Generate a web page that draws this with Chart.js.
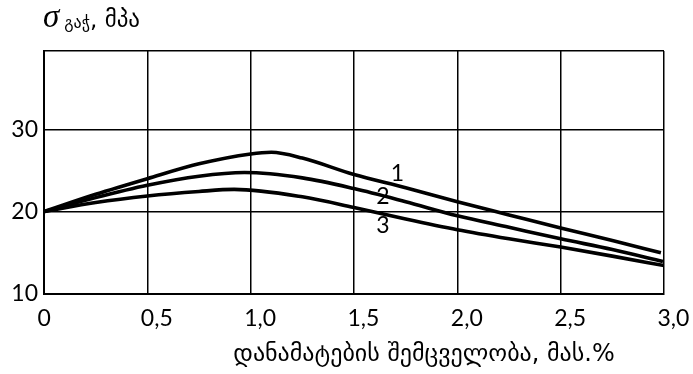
<!DOCTYPE html>
<html>
<head>
<meta charset="utf-8">
<script src="https://cdn.jsdelivr.net/npm/chart.js@4.4.1/dist/chart.umd.min.js"></script>
<style>
  html, body { margin: 0; padding: 0; background: #fff; }
  #wrap { width: 693px; height: 374px; position: relative; }
</style>
</head>
<body>
<div id="wrap"><canvas id="c" width="693" height="374"></canvas></div>
<script>
// Tensile strength of gypsum vs. additive content, three compositions
const xTickValues = [0, 0.5, 1.0, 1.5, 2.0, 2.5, 3.0];
const xTickLabels = ['0', '0,5', '1,0', '1,5', '2,0', '2,5', '3,0'];
const yTickValues = [10, 20, 30];

const curve1X = [0, 0.25, 0.5, 0.75, 1.0, 1.1, 1.25, 1.5, 1.75, 2.0, 2.25, 2.5, 2.75, 2.985];
const curve1Y = [20, 22.1, 24.0, 25.8, 27.0, 27.2, 26.5, 24.5, 22.9, 21.2, 19.6, 18.0, 16.5, 15.0];

const curve2X = [0, 0.25, 0.5, 0.75, 0.97, 1.25, 1.5, 1.75, 2.0, 2.25, 2.5, 2.75, 2.995];
const curve2Y = [20, 21.7, 23.2, 24.3, 24.75, 24.1, 22.8, 21.2, 19.5, 18.1, 16.7, 15.4, 13.95];

const curve3X = [0, 0.25, 0.5, 0.75, 0.92, 1.25, 1.5, 1.75, 2.0, 2.25, 2.5, 2.75, 3.0];
const curve3Y = [20, 21.1, 21.9, 22.45, 22.7, 21.8, 20.5, 19.1, 17.8, 16.7, 15.7, 14.6, 13.45];

const curveNames = ['1', '2', '3'];
const curveNameAt = [[1.71, 24.6], [1.64, 21.8], [1.64, 18.3]];

const yTitleSymbol = 'σ';
const yTitleSub = 'გაჭ';
const yTitleUnit = ', მპა';
const xTitle = 'დანამატების შემცველობა, მას.%';

const toPoints = (xs, ys) => xs.map((v, i) => ({ x: v, y: ys[i] }));

const lineStyle = {
  borderColor: '#000',
  borderWidth: 3.6,
  pointRadius: 0,
  fill: false,
  cubicInterpolationMode: 'monotone'
};

const annotate = {
  id: 'annotate',
  afterDatasetsDraw(chart) {
    const { ctx, chartArea, scales: { x, y } } = chart;
    ctx.save();
    ctx.fillStyle = '#000';

    // curve numbers
    ctx.font = '23px Lato';
    ctx.textAlign = 'center';
    ctx.textBaseline = 'middle';
    curveNames.forEach((n, i) => {
      ctx.fillText(n, x.getPixelForValue(curveNameAt[i][0]), y.getPixelForValue(curveNameAt[i][1]));
    });

    // vertical axis quantity
    ctx.textAlign = 'left';
    ctx.textBaseline = 'alphabetic';
    let px = chartArea.left - 1;
    const base = 27;
    ctx.font = 'italic 33px "Liberation Serif"';
    ctx.fillText(yTitleSymbol, px, base);
    px += ctx.measureText(yTitleSymbol).width + 5;
    ctx.font = '16px "DejaVu Sans"';
    ctx.fillText(yTitleSub, px, base + 1);
    px += ctx.measureText(yTitleSub).width;
    ctx.font = '23px "DejaVu Sans"';
    ctx.fillText(yTitleUnit, px, base);

    // horizontal axis quantity
    ctx.font = '24px "DejaVu Sans"';
    ctx.textAlign = 'center';
    ctx.textBaseline = 'middle';
    ctx.fillText(xTitle, 424, 355);
    ctx.restore();
  }
};

new Chart(document.getElementById('c'), {
  type: 'line',
  data: {
    datasets: [
      { label: curveNames[0], data: toPoints(curve1X, curve1Y), ...lineStyle },
      { label: curveNames[1], data: toPoints(curve2X, curve2Y), ...lineStyle },
      { label: curveNames[2], data: toPoints(curve3X, curve3Y), ...lineStyle }
    ]
  },
  options: {
    responsive: false,
    animation: false,
    devicePixelRatio: 1,
    layout: { padding: { top: 51, right: 29, left: 0, bottom: 0 } },
    plugins: { legend: { display: false }, tooltip: { enabled: false }, title: { display: false } },
    scales: {
      x: {
        type: 'linear',
        min: 0,
        max: 3,
        afterBuildTicks: s => { s.ticks = xTickValues.map(v => ({ value: v })); },
        afterFit: s => { s.height = 80; s.paddingLeft = 0; s.paddingRight = 0; },
        grid: { color: '#000', lineWidth: 1.5, drawTicks: false, tickLength: 0 },
        border: { color: '#000', width: 2 },
        ticks: {
          autoSkip: false,
          maxRotation: 0,
          align: 'start',
          labelOffset: -6.5,
          padding: 11,
          color: '#000',
          font: { family: 'Lato', size: 23 },
          callback: v => {
            const i = xTickValues.findIndex(t => Math.abs(t - v) < 1e-9);
            return i >= 0 ? xTickLabels[i] : '';
          }
        }
      },
      y: {
        type: 'linear',
        min: 10,
        max: 39.5,
        afterBuildTicks: s => { s.ticks = [...yTickValues, 39.5].map(v => ({ value: v })); },
        afterFit: s => { s.width = 44; },
        grid: { color: '#000', lineWidth: 1.5, drawTicks: false, tickLength: 0 },
        border: { color: '#000', width: 2 },
        ticks: {
          autoSkip: false,
          padding: 6,
          color: '#000',
          font: { family: 'Lato', size: 23 },
          callback: v => (yTickValues.includes(v) ? String(v) : '')
        }
      }
    }
  },
  plugins: [annotate]
});
</script>
</body>
</html>
